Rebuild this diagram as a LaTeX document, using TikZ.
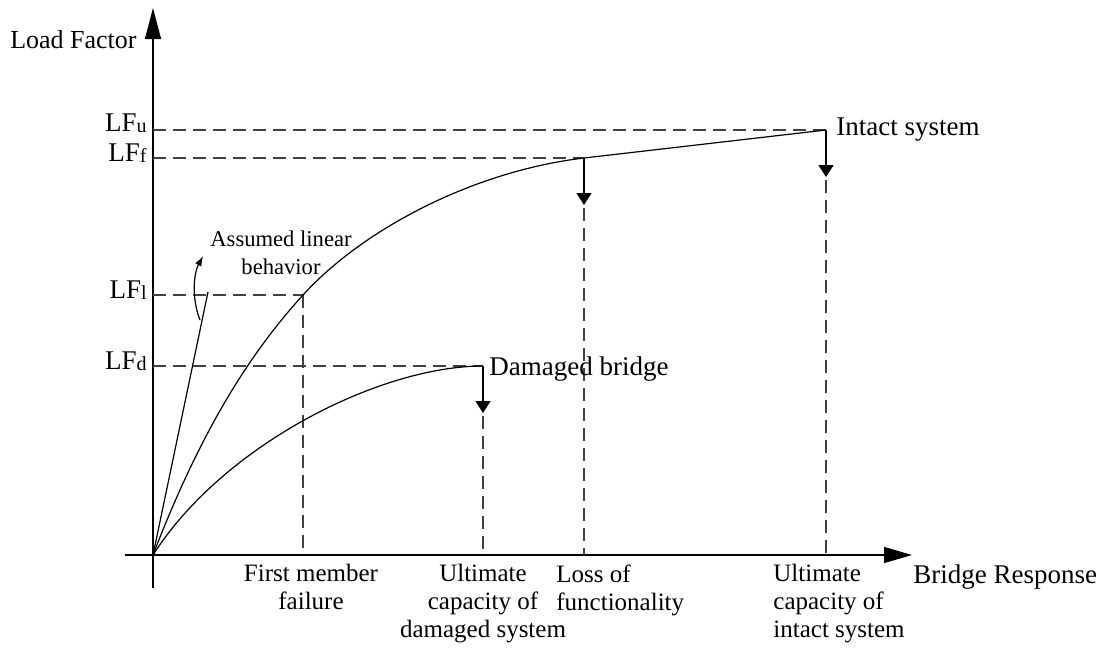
\documentclass[tikz,border=0pt]{standalone}
\usepackage{fontspec}
\setmainfont{Liberation Serif}
\usetikzlibrary{arrows.meta,positioning,calc}

\newcommand{\lfsub}[1]{\raisebox{-0.8pt}{\fontsize{10}{10}\selectfont #1}}

\tikzset{
	axis/.style={line width=0.6pt},
	curve/.style={line width=0.6pt},
	guide/.style={line width=0.55pt, black!75, dash pattern=on 6.5pt off 3.5pt},
	drop/.style={line width=0.8pt, -{Triangle[length=6pt,width=7.5pt]}},
	lbl/.style={inner sep=0pt, font=\fontsize{13.5}{14}\selectfont},
	xlbl/.style={inner sep=0pt, font=\fontsize{12.5}{14}\selectfont, anchor=north},
}

\begin{document}
\begin{tikzpicture}[x=0.5pt,y=-0.5pt]
	\useasboundingbox (0,0) rectangle (1109,650);
	% key points
	\coordinate (O) at (153,555);
	\coordinate (Yb) at (153,588);
	\coordinate (Yt) at (153,8);
	\coordinate (Xl) at (125,555);
	\coordinate (Xr) at (912,555);
	\coordinate (U) at (826,130);
	\coordinate (F) at (584,158);
	\coordinate (L) at (303,295);
	\coordinate (D) at (483,366);
	\coordinate (Lin) at (208,292);
	\coordinate (Ca) at (200,320);
	\coordinate (Cb) at (203,256);
	
	% axes
	\draw[axis,-{Triangle[length=15.5pt,width=8pt]}] (Yb)--(Yt);
	\draw[axis,-{Triangle[length=14pt,width=8pt]}] (Xl)--(Xr);
	
	% dashed guides
	\draw[guide] (O |- U) -- (U);
	\draw[guide] (O |- F) -- (F);
	\draw[guide] (O |- L) -- (L);
	\draw[guide] (O |- D) -- (D);
	\draw[guide] (L) -- (L |- O);
	
	% drops at the peaks
	\draw[drop] (U) -- ++(0,47) coordinate (Ua);
	\draw[drop] (F) -- ++(0,47) coordinate (Fa);
	\draw[drop] (D) -- ++(0,47) coordinate (Da);
	\draw[guide] ([yshift=-1.5pt]Ua) -- (U |- O);
	\draw[guide] ([yshift=-1.5pt]Fa) -- (F |- O);
	\draw[guide] ([yshift=-1.5pt]Da) -- (D |- O);
	
	% responses
	\draw[curve] (O) .. controls (203,425) and (253,350) .. (L)
		.. controls (363,229) and (474,171) .. (F) -- (U);
	\draw[curve] (O) .. controls (223,445) and (380,366) .. (D);
	\draw[curve] (O) -- (Lin);
	\draw[curve,-{Latex[length=5pt,width=3.5pt]}] (Ca) .. controls (192,300) and (193,275) .. (Cb);
	
	% axis names
	\node[lbl, font=\fontsize{13}{14}\selectfont, anchor=base east] (yname) at (137,48) {Load Factor};
	\node[lbl, anchor=base west] (xname) at (913,583) {Bridge Response};
	
	% load levels
	\node[lbl, anchor=base east] (lfu) at (147,131) {LF\lfsub{u}};
	\node[lbl, anchor=base east] (lff) at (147,161) {LF\lfsub{f}};
	\node[lbl, anchor=base east] (lfl) at (147,298) {LF\lfsub{l}};
	\node[lbl, anchor=base east] (lfd) at (147,369) {LF\lfsub{d}};
	
	% curve names
	\node[lbl, anchor=base west] (intact) at (836,135) {Intact system};
	\node[lbl, anchor=base west] (damaged) at (489,375) {Damaged bridge};
	\node[inner sep=0pt, font=\fontsize{11.3}{14}\selectfont, align=center, anchor=north] (linear) at (281,230) {Assumed linear\\behavior};
	
	% response states
	\node[xlbl, align=center] (first) at (311,564) {First member\\failure};
	\node[xlbl, align=center] (ultd) at (483,564) {Ultimate\\capacity of\\damaged system};
	\node[xlbl, align=left, anchor=north west] (loss) at (556,564) {Loss of\\functionality};
	\node[xlbl, align=left, anchor=north west] (ulti) at (773,564) {Ultimate\\capacity of\\intact system};
\end{tikzpicture}
\end{document}
